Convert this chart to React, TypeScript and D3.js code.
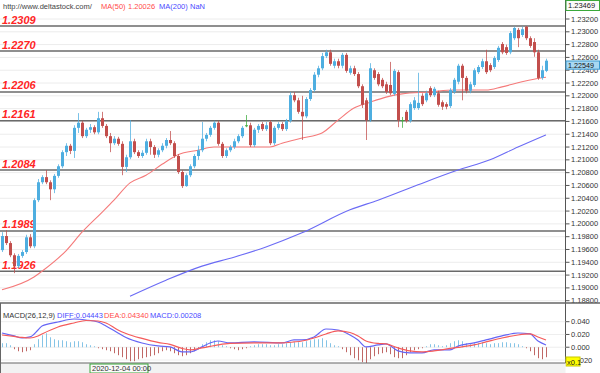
import { scaleLinear, line, curveMonotoneX } from 'd3';

const W = 600;
const H = 373;

// candles, one per bar
const OPEN = [
  1.1959, 1.1981, 1.197, 1.1951, 1.1934, 1.195, 1.1956, 1.1979, 1.1965, 1.2037,
  1.2065, 1.2073, 1.2065, 1.2054, 1.2075, 1.209, 1.2112, 1.2122, 1.2114, 1.215,
  1.2158, 1.2137, 1.2147, 1.2151, 1.2143, 1.2165, 1.2153, 1.2137, 1.2126, 1.2133,
  1.2125, 1.2089, 1.2104, 1.2129, 1.2112, 1.2106, 1.2111, 1.2129, 1.212, 1.2108,
  1.2115, 1.2122, 1.2131, 1.2126, 1.2106, 1.2081, 1.2059, 1.2076, 1.209, 1.2106,
  1.2115, 1.2133, 1.2139, 1.215, 1.2158, 1.2125, 1.2106, 1.2115, 1.212, 1.2129,
  1.2137, 1.2154, 1.2154, 1.2123, 1.2147, 1.2156, 1.2148, 1.2159, 1.2126, 1.215,
  1.2156, 1.2148, 1.2161, 1.2201, 1.2193, 1.2175, 1.2168, 1.2195, 1.2209, 1.2233,
  1.2243, 1.2262, 1.2268, 1.2247, 1.2254, 1.2247, 1.2264, 1.2236, 1.2243, 1.2234,
  1.2215, 1.2193, 1.2162, 1.224, 1.2234, 1.2225, 1.2218, 1.2217, 1.2203, 1.2237,
  1.2162, 1.2175, 1.2161, 1.2181, 1.2181, 1.22, 1.2193, 1.2212, 1.2201, 1.2204,
  1.219, 1.2187, 1.2184, 1.2206, 1.2222, 1.2247, 1.2228, 1.2208, 1.2217, 1.2237,
  1.2245, 1.2254, 1.2248, 1.2245, 1.2256, 1.2281, 1.2276, 1.2268, 1.229, 1.2303,
  1.2295, 1.2308, 1.229, 1.2284, 1.2268, 1.2228, 1.2239,
];
const HIGH = [
  1.1987, 1.199, 1.1973, 1.1954, 1.1953, 1.1959, 1.1983, 1.1984, 1.204, 1.207,
  1.2076, 1.2084, 1.2068, 1.2078, 1.2093, 1.2115, 1.2126, 1.2125, 1.2154, 1.2173,
  1.2161, 1.215, 1.2156, 1.2154, 1.2175, 1.2175, 1.2156, 1.2142, 1.2137, 1.2136,
  1.2129, 1.2108, 1.2162, 1.2133, 1.2115, 1.2115, 1.2133, 1.2133, 1.2123, 1.2118,
  1.2126, 1.2134, 1.2145, 1.2129, 1.2109, 1.2084, 1.2079, 1.2093, 1.2109, 1.2122,
  1.2159, 1.2142, 1.2153, 1.2161, 1.2161, 1.2128, 1.2118, 1.2123, 1.2133, 1.214,
  1.2153, 1.217, 1.2158, 1.215, 1.2156, 1.2159, 1.2159, 1.2162, 1.2153, 1.2159,
  1.2159, 1.2164, 1.2206, 1.2206, 1.2197, 1.22, 1.2198, 1.2212, 1.2237, 1.2247,
  1.2267, 1.2272, 1.2272, 1.2258, 1.2258, 1.2267, 1.2267, 1.2247, 1.2247, 1.2237,
  1.2218, 1.2197, 1.2251, 1.2243, 1.2237, 1.2228, 1.2222, 1.2253, 1.2242, 1.224,
  1.2167, 1.2178, 1.219, 1.2198, 1.2236, 1.2204, 1.2208, 1.2215, 1.2214, 1.2208,
  1.2193, 1.219, 1.2212, 1.2228, 1.225, 1.225, 1.2231, 1.2222, 1.2243, 1.2248,
  1.2258, 1.2272, 1.2251, 1.2262, 1.2278, 1.2284, 1.228, 1.2301, 1.2308, 1.2306,
  1.2308, 1.2309, 1.2293, 1.229, 1.2272, 1.2247, 1.2258,
];
const LOW = [
  1.1956, 1.1967, 1.1948, 1.1923, 1.1931, 1.1947, 1.1953, 1.1962, 1.1962, 1.2034,
  1.2062, 1.2062, 1.2037, 1.2048, 1.2072, 1.2087, 1.2106, 1.2109, 1.2103, 1.2142,
  1.2134, 1.2134, 1.2142, 1.214, 1.214, 1.215, 1.2134, 1.2112, 1.2123, 1.2122,
  1.2076, 1.2081, 1.2101, 1.2109, 1.2103, 1.2103, 1.2108, 1.2108, 1.2103, 1.2104,
  1.2112, 1.2118, 1.2123, 1.2103, 1.2078, 1.2056, 1.2058, 1.2073, 1.2087, 1.21,
  1.2112, 1.2129, 1.2136, 1.2147, 1.2122, 1.2103, 1.2103, 1.2112, 1.2117, 1.2126,
  1.2134, 1.2151, 1.212, 1.212, 1.2142, 1.2145, 1.2145, 1.2123, 1.2123, 1.2147,
  1.2145, 1.2145, 1.2158, 1.219, 1.2172, 1.2131, 1.2165, 1.2192, 1.2206, 1.2229,
  1.224, 1.2259, 1.2247, 1.2243, 1.2243, 1.2243, 1.2236, 1.2233, 1.2231, 1.2212,
  1.2181, 1.2131, 1.2159, 1.2225, 1.2215, 1.2212, 1.2203, 1.2201, 1.22, 1.2151,
  1.215, 1.2158, 1.2158, 1.2178, 1.2178, 1.2184, 1.219, 1.2198, 1.2198, 1.2183,
  1.2178, 1.2179, 1.2181, 1.2203, 1.2218, 1.2193, 1.2204, 1.2204, 1.2214, 1.2234,
  1.2242, 1.2234, 1.2237, 1.2242, 1.2253, 1.2265, 1.2264, 1.2265, 1.2287, 1.2276,
  1.2292, 1.2287, 1.2275, 1.2261, 1.2225, 1.2225, 1.2237,
];
const CLOSE = [
  1.1981, 1.197, 1.1951, 1.1934, 1.195, 1.1956, 1.1979, 1.1965, 1.2037, 1.2065,
  1.2073, 1.2065, 1.2054, 1.2075, 1.209, 1.2112, 1.2122, 1.2114, 1.215, 1.2158,
  1.2137, 1.2147, 1.2151, 1.2143, 1.2165, 1.2153, 1.2137, 1.2126, 1.2133, 1.2125,
  1.2089, 1.2104, 1.2129, 1.2112, 1.2106, 1.2111, 1.2129, 1.212, 1.2108, 1.2115,
  1.2122, 1.2131, 1.2126, 1.2106, 1.2081, 1.2059, 1.2076, 1.209, 1.2106, 1.2115,
  1.2133, 1.2139, 1.215, 1.2158, 1.2125, 1.2106, 1.2115, 1.212, 1.2129, 1.2137,
  1.215, 1.2154, 1.2123, 1.2147, 1.2153, 1.2148, 1.2154, 1.2126, 1.215, 1.2156,
  1.2148, 1.2161, 1.2201, 1.2193, 1.2175, 1.2168, 1.2195, 1.2209, 1.2233, 1.2243,
  1.2262, 1.2268, 1.225, 1.2254, 1.2247, 1.2264, 1.2239, 1.2243, 1.2234, 1.2215,
  1.2186, 1.2162, 1.2243, 1.2228, 1.2218, 1.2215, 1.2206, 1.2204, 1.2239, 1.2162,
  1.2162, 1.2161, 1.2187, 1.2193, 1.2189, 1.2187, 1.2204, 1.2201, 1.2211, 1.2186,
  1.2183, 1.2183, 1.2209, 1.2225, 1.2247, 1.2228, 1.2208, 1.2218, 1.224, 1.2245,
  1.2254, 1.2237, 1.224, 1.2259, 1.2275, 1.2268, 1.2267, 1.2298, 1.2306, 1.229,
  1.2304, 1.229, 1.2278, 1.2268, 1.2228, 1.224, 1.22549,
];

// moving averages, read at a few bars and smoothed between
const MA50_AT = [0, 8, 10, 16, 20, 25, 28, 32, 36, 40, 44, 49, 53, 61, 67, 70, 75, 80, 84, 88, 92, 96, 100, 107, 113, 121, 125, 130, 133, 136];
const MA50 = [
  1.1897, 1.1917, 1.1926, 1.1958, 1.1987, 1.2018, 1.2037, 1.2064, 1.2076, 1.2093,
  1.2108, 1.2115, 1.212, 1.212, 1.212, 1.2126, 1.2134, 1.2142, 1.2162, 1.2181,
  1.219, 1.2198, 1.2203, 1.2206, 1.2209, 1.2209, 1.2214, 1.2222, 1.2226, 1.2229,
];
const MA200_AT = [32, 41, 50, 58, 66, 75, 87, 94, 104, 114, 122, 129, 136];
const MA200 = [1.1887, 1.1912, 1.1934, 1.1948, 1.1964, 1.1986, 1.2022, 1.2037, 1.2061, 1.2084, 1.21, 1.212, 1.2139];

// MACD panel
const MACD_AT = [
  0, 3, 5, 7, 9, 10, 14, 18, 21, 24, 26, 29, 31, 35, 39, 42, 45, 47, 50, 52, 54, 57, 63, 70,
  73, 75, 78, 81, 84, 87, 89, 91, 94, 96, 99, 102, 105, 108, 112, 114, 118, 121, 125, 129, 132, 134, 136,
];
const DIFF = [
  0.0223, 0.0177, 0.0145, 0.0161, 0.027, 0.0333, 0.0395, 0.0442, 0.0427, 0.0395, 0.0333, 0.0223,
  0.0153, 0.0067, 0.002, 0.0005, -0.0073, -0.0073, 0.0005, 0.0067, 0.0098, 0.0067, 0.0083, 0.0067,
  0.0114, 0.0114, 0.0161, 0.0286, 0.027, 0.0192, 0.0114, 0.0005, 0.0036, 0.0052, -0.0058, -0.0089,
  -0.0089, -0.0042, -0.0042, 0.002, 0.0067, 0.0114, 0.0177, 0.0223, 0.0208, 0.0098, 0.0036,
];
const DEA = [
  0.0192, 0.0169, 0.0153, 0.0145, 0.0177, 0.0208, 0.0317, 0.038, 0.0419, 0.0411, 0.038, 0.027,
  0.0216, 0.0138, 0.0075, 0.0044, -0.0019, -0.0042, -0.0011, 0.0013, 0.0036, 0.0059, 0.0067, 0.0067,
  0.0083, 0.0098, 0.0145, 0.0208, 0.0255, 0.0231, 0.0177, 0.0098, 0.0059, 0.0052, -0.0011, -0.0058,
  -0.0073, -0.0058, -0.0019, -0.0003, 0.0036, 0.0083, 0.0145, 0.0192, 0.0208, 0.0161, 0.0114,
];
const HIST = [
  0.0063, 0.0063, 0.0031, -0.0031, -0.0063, -0.0078, -0.0063, -0.0047, 0.0047, 0.0125,
  0.0188, 0.0219, 0.0156, 0.0125, 0.0109, 0.0109, 0.0094, 0.0078, 0.0094, 0.0094,
  0.0078, 0.0047, 0.0031, 0.0016, -0.0016, -0.0031, -0.0047, -0.0063, -0.0094, -0.0125,
  -0.0156, -0.0188, -0.0219, -0.0219, -0.0188, -0.0172, -0.0156, -0.0141, -0.0125, -0.0094,
  -0.0063, -0.0047, -0.0063, -0.0094, -0.0125, -0.0141, -0.0125, -0.0094, -0.0063, -0.0031,
  0.0047, 0.0078, 0.0109, 0.0109, 0.0094, 0.0031, 0.0016, -0.0016, -0.0031, -0.0047,
  -0.0031, -0.0016, 0.0016, 0.0031, 0.0047, 0.0047, 0.0047, 0.0031, 0.0031, 0.0047,
  0.0047, 0.0063, 0.0078, 0.0078, 0.0078, 0.0078, 0.0094, 0.0109, 0.0125, 0.0125,
  0.0141, 0.0109, 0.0063, 0.0031, 0.0016, -0.0031, -0.0078, -0.0125, -0.0172, -0.0203,
  -0.0234, -0.025, -0.0188, -0.0141, -0.0109, -0.0094, -0.0078, -0.0109, -0.0156, -0.0172,
  -0.0172, -0.0125, -0.0078, -0.0047, -0.0031, -0.0016, 0.0016, 0.0047, 0.0047, 0.0031,
  0.0016, 0.0031, 0.0063, 0.0094, 0.0109, 0.0094, 0.0063, 0.0047, 0.0063, 0.0063,
  0.0078, 0.0063, 0.0047, 0.0063, 0.0063, 0.0078, 0.0078, 0.0063, 0.0063, 0.0047,
  0.0016, -0.0016, -0.0063, -0.0125, -0.0172, -0.0188, -0.0156,
];

const LEVELS = [1.2309, 1.227, 1.2206, 1.2161, 1.2084, 1.1989, 1.1926];
const PRICE_TICKS = [
  1.188, 1.19, 1.192, 1.194, 1.196, 1.198, 1.2, 1.202, 1.204, 1.206, 1.208, 1.21,
  1.212, 1.214, 1.216, 1.218, 1.22, 1.222, 1.224, 1.226, 1.228, 1.23, 1.232,
];
const MACD_TICKS = [0.04, 0.02, 0, -0.02];
const TOP_PRICE = '1.23469';
const LAST_PRICE = '1.22549';
const DATE_LABEL = '2020-12-04 00:00';

const FONT = '"Liberation Sans", Arial, sans-serif';
const UP = '#4eaee0';
const DOWN = '#c24e4c';
const DOJI = '#3cab3c';

export default function App() {
  const n = CLOSE.length;
  const x = scaleLinear().domain([0, n - 1]).range([2, 546]);
  const yP = scaleLinear().domain([1.188, 1.232]).range([300.7, 19]);
  const yM = scaleLinear().domain([-0.02, 0.04]).range([360, 321.7]);
  const AXIS_X = 565.5;

  const ma50 = line<number>()
    .x((_, k) => x(MA50_AT[k]))
    .y((d) => yP(d))
    .curve(curveMonotoneX)(MA50) ?? '';
  const ma200 = line<number>()
    .x((_, k) => x(MA200_AT[k]))
    .y((d) => yP(d))
    .curve(curveMonotoneX)(MA200) ?? '';
  const diff = line<number>()
    .x((_, k) => x(MACD_AT[k]))
    .y((d) => yM(d))
    .curve(curveMonotoneX)(DIFF) ?? '';
  const dea = line<number>()
    .x((_, k) => x(MACD_AT[k]))
    .y((d) => yM(d))
    .curve(curveMonotoneX)(DEA) ?? '';

  // the last-price tag sits just under the close, as in the source terminal
  const tagY = yP(+LAST_PRICE) + 0.3;

  return (
    <svg
      width={W}
      height={H}
      style={{ position: 'absolute', left: 0, top: 0, background: '#fff' }}
      fontFamily={FONT}
    >
      <rect x={0} y={0} width={W} height={H} fill="#fff" />

      {/* price grid */}
      {PRICE_TICKS.map((t) => (
        <line key={t} x1={0} x2={AXIS_X} y1={yP(t)} y2={yP(t)} stroke="#ececec" />
      ))}

      {/* support / resistance levels */}
      {LEVELS.map((l) => (
        <g key={l}>
          <line x1={0} x2={AXIS_X} y1={yP(l)} y2={yP(l)} stroke="#6a6a6a" strokeWidth={1.5} />
          <text
            x={2}
            y={yP(l) - 2.5}
            fontSize={11}
            fontWeight="bold"
            fontStyle="italic"
            fill="#ff2525"
          >
            {l.toFixed(4)}
          </text>
        </g>
      ))}

      <path d={ma200} fill="none" stroke="#6b6bf5" strokeWidth={1.1} />
      <path d={ma50} fill="none" stroke="#f57a7a" strokeWidth={1.1} />

      {/* candles */}
      {CLOSE.map((c, i) => {
        const o = OPEN[i];
        const col = c > o ? UP : c < o ? DOWN : DOJI;
        const cx = Math.round(x(i));
        const top = yP(Math.max(o, c));
        const bot = yP(Math.min(o, c));
        return (
          <g key={i}>
            <line x1={cx + 0.5} x2={cx + 0.5} y1={yP(HIGH[i])} y2={yP(LOW[i])} stroke={col} strokeOpacity={0.75} />
            <rect x={cx - 1} y={top} width={3} height={Math.max(1, bot - top)} fill={col} />
          </g>
        );
      })}

      {/* header */}
      <g fontSize={7.5}>
        <text x={3} y={9} fill="#444">http://www.deltastock.com/</text>
        <text x={101} y={9} fill="#ff4a4a">MA(50)</text>
        <text x={128} y={9} fill="#ff4a4a">1.20026</text>
        <text x={159} y={9} fill="#4a4aff">MA(200)</text>
        <text x={190} y={9} fill="#4a4aff">NaN</text>
      </g>

      {/* right price axis */}
      <line x1={AXIS_X} x2={AXIS_X} y1={0} y2={363} stroke="#555" />
      {PRICE_TICKS.map((t) => (
        <g key={t}>
          <line x1={AXIS_X} x2={AXIS_X + 4} y1={yP(t)} y2={yP(t)} stroke="#555" />
          <text x={571} y={yP(t) + 2.6} fontSize={7.5} fill="#333">
            {t.toFixed(5)}
          </text>
        </g>
      ))}
      <rect x={566} y={0.5} width={33.5} height={10} fill="#fafafa" stroke="#3aa83a" />
      <text x={568} y={8.3} fontSize={7.5} fill="#222">{TOP_PRICE}</text>
      <rect x={566} y={tagY} width={33.5} height={8.2} fill="#a8d8f2" stroke="#3b9ad0" />
      <text x={568} y={tagY + 6.6} fontSize={7.2} fill="#111">{LAST_PRICE}</text>

      {/* MACD panel */}
      <line x1={0} x2={W} y1={303} y2={303} stroke="#666" strokeWidth={1.5} />
      {MACD_TICKS.map((t) => (
        <line key={t} x1={0} x2={AXIS_X} y1={yM(t)} y2={yM(t)} stroke="#eeeeee" />
      ))}
      {HIST.map((h, i) => (
        <line
          key={i}
          x1={Math.round(x(i)) + 0.5}
          x2={Math.round(x(i)) + 0.5}
          y1={yM(0)}
          y2={yM(h)}
          stroke={h >= 0 ? '#86c4e6' : '#c06866'}
        />
      ))}
      <path d={diff} fill="none" stroke="#6565f5" strokeWidth={1.2} />
      <path d={dea} fill="none" stroke="#f55a5a" strokeWidth={1.2} />
      <g fontSize={7.5}>
        <text x={3} y={318} fill="#333">MACD(26,12,9)</text>
        <text x={57} y={318} fill="#4a4aff">DIFF:0.04443</text>
        <text x={104} y={318} fill="#ff4a4a">DEA:0.04340</text>
        <text x={150} y={318} fill="#4a4aff">MACD:0.00208</text>
      </g>
      {MACD_TICKS.map((t) => (
        <g key={t}>
          <line x1={AXIS_X} x2={AXIS_X + 4} y1={yM(t)} y2={yM(t)} stroke="#555" />
          <text x={571} y={yM(t) + 2.6} fontSize={7.5} fill="#333">
            {t.toFixed(3)}
          </text>
        </g>
      ))}
      <rect x={566} y={357} width={14} height={9} fill="#ffff00" stroke="#c8c800" />
      <text x={567} y={364.5} fontSize={7.5} fill="#222">x0.1</text>

      {/* time strip */}
      <rect x={0} y={363} width={AXIS_X} height={10} fill="#f2f2f2" />
      <line x1={0} x2={AXIS_X} y1={363} y2={363} stroke="#666" strokeWidth={1.2} />
      <line x1={0.5} x2={0.5} y1={303} y2={373} stroke="#666" />
      <rect x={90} y={364} width={58} height={9} fill="#fafafa" stroke="#3aa83a" />
      <text x={92} y={371.3} fontSize={7.5} fill="#333">{DATE_LABEL}</text>
    </svg>
  );
}
